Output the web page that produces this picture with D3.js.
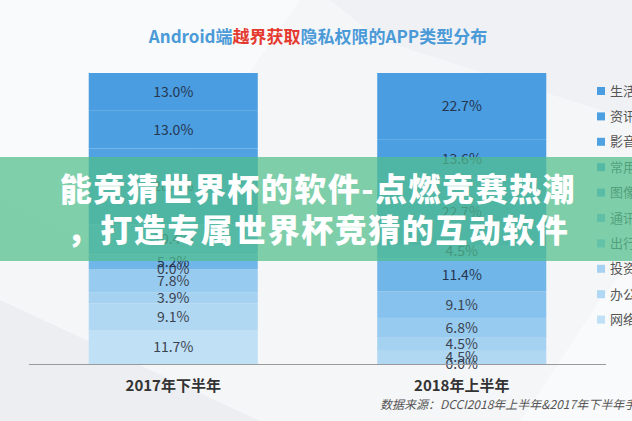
<!DOCTYPE html>
<html>
<head>
<meta charset="utf-8">
<script src="https://cdn.jsdelivr.net/npm/d3@7"></script>
<style>
  html, body { margin: 0; padding: 0; background: #f4f5f7; }
  svg { display: block; font-family: "Noto Sans CJK SC", "Noto Sans", sans-serif; }
</style>
</head>
<body>
<div id="chart"></div>
<script>
const categories = ["2017年下半年", "2018年上半年"];
const seriesNames = ["生活", "资讯", "影音", "常用", "图像", "通讯", "出行", "投资", "办公", "网络"];
const values2017 = [13.0, 13.0, 26.0, 10.4, 5.2, 0.0, 7.8, 3.9, 9.1, 11.7];
const values2018 = [22.7, 13.6, 22.7, 4.5, 11.4, 9.1, 6.8, 4.5, 4.5, 0.0];
const colors = ["#4a9de0", "#4c9fe1", "#50a2e2", "#5eabe5", "#71b6e9", "#86c2ed", "#97cbef", "#a5d2f1", "#b1d8f3", "#bfe0f5"];

const width = 632, height = 421;
const margin = { top: 73, bottom: 57, left: 29, right: 26 };

const svg = d3.select("#chart").append("svg")
  .attr("width", width)
  .attr("height", height);

// faint background shapes
svg.append("rect").attr("width", width).attr("height", height).attr("fill", "#f5f6f8");
svg.append("polygon").attr("points", "0,0 300,0 120,260 0,200").attr("fill", "#f9fafb");
svg.append("polygon").attr("points", "330,0 632,0 632,120 380,40").attr("fill", "#eff1f4");
svg.append("polygon").attr("points", "0,300 260,421 0,421").attr("fill", "#eceef1");
svg.append("polygon").attr("points", "600,300 632,260 632,421 520,421").attr("fill", "#f9fafb");

// title
const title = svg.append("text")
  .attr("x", 318)
  .attr("y", 43)
  .attr("text-anchor", "middle")
  .attr("font-size", 17)
  .attr("font-weight", "bold")
  .attr("fill", "#4b9ad8");
title.append("tspan").text("Android端");
title.append("tspan").attr("fill", "#e53a2f").text("越界获取");
title.append("tspan").text("隐私权限的APP类型分布");

const rows = categories.map((c, i) => {
  const row = { category: c };
  const vals = i === 0 ? values2017 : values2018;
  seriesNames.forEach((s, j) => row[s] = vals[j]);
  return row;
});

const x = d3.scaleBand()
  .domain(categories)
  .range([margin.left, width - margin.right])
  .paddingInner(0.414)
  .paddingOuter(0.207);

const y = d3.scaleLinear()
  .domain([0, 1])
  .range([height - margin.bottom, margin.top]);

const color = d3.scaleOrdinal().domain(seriesNames).range(colors);

// stack from the bottom: last series sits at the bottom
const stack = d3.stack()
  .keys(seriesNames.slice().reverse())
  .offset(d3.stackOffsetExpand);
const layers = stack(rows);

const g = svg.append("g");
layers.forEach(layer => {
  g.selectAll(null)
    .data(layer)
    .enter()
    .append("rect")
    .attr("x", d => x(d.data.category))
    .attr("width", x.bandwidth())
    .attr("y", d => y(d[1]))
    .attr("height", d => y(d[0]) - y(d[1]))
    .attr("fill", color(layer.key));
});

// value labels
layers.forEach(layer => {
  const idx = seriesNames.indexOf(layer.key);
  g.selectAll(null)
    .data(layer)
    .enter()
    .append("text")
    .attr("x", d => x(d.data.category) + x.bandwidth() / 2)
    .attr("y", d => (y(d[0]) + y(d[1])) / 2)
    .attr("dy", "0.35em")
    .attr("text-anchor", "middle")
    .attr("font-size", 14)
    .attr("fill", idx < 5 ? "#253650" : "#3c4350")
    .text(d => d.data[layer.key].toFixed(1) + "%");
});

// axis
const axis = svg.append("g")
  .attr("transform", `translate(0,${height - margin.bottom})`)
  .call(d3.axisBottom(x).tickSize(0).tickPadding(16));
axis.select(".domain").attr("stroke", "#9a9a9a").attr("d", `M${margin.left},0.5H${width - margin.right}`);
axis.selectAll("text")
  .attr("font-size", 15)
  .attr("font-weight", "bold")
  .attr("fill", "#333")
  .attr("font-family", "\"Noto Sans CJK SC\", sans-serif");

// legend
const legend = svg.append("g");
seriesNames.forEach((s, i) => {
  const ly = 91 + i * 25.4;
  legend.append("rect")
    .attr("x", 597)
    .attr("y", ly - 4)
    .attr("width", 8)
    .attr("height", 8)
    .attr("fill", color(s));
  legend.append("text")
    .attr("x", 610)
    .attr("y", ly)
    .attr("dy", "0.35em")
    .attr("font-size", 13)
    .attr("fill", "#555")
    .text(s + "类");
});

// source note
svg.append("text")
  .attr("x", 380)
  .attr("y", 409)
  .attr("font-size", 12)
  .attr("font-style", "italic")
  .attr("fill", "#555")
  .text("数据来源：DCCI2018年上半年&2017年下半年手机隐私安全报告");

// overlay banner
svg.append("rect")
  .attr("x", 0)
  .attr("y", 157)
  .attr("width", width)
  .attr("height", 104)
  .attr("fill", "rgb(80,190,140)")
  .attr("opacity", 0.72);

const bannerLines = ["能竞猜世界杯的软件-点燃竞赛热潮", "，打造专属世界杯竞猜的互动软件"];
svg.selectAll(".banner")
  .data(bannerLines)
  .enter()
  .append("text")
  .attr("class", "banner")
  .attr("x", 318)
  .attr("y", (d, i) => 201 + i * 41)
  .attr("text-anchor", "middle")
  .attr("font-size", 32)
  .attr("letter-spacing", 1.5)
  .attr("font-weight", 900)
  .attr("fill", "#fff")
  .text(d => d);
</script>
</body>
</html>
